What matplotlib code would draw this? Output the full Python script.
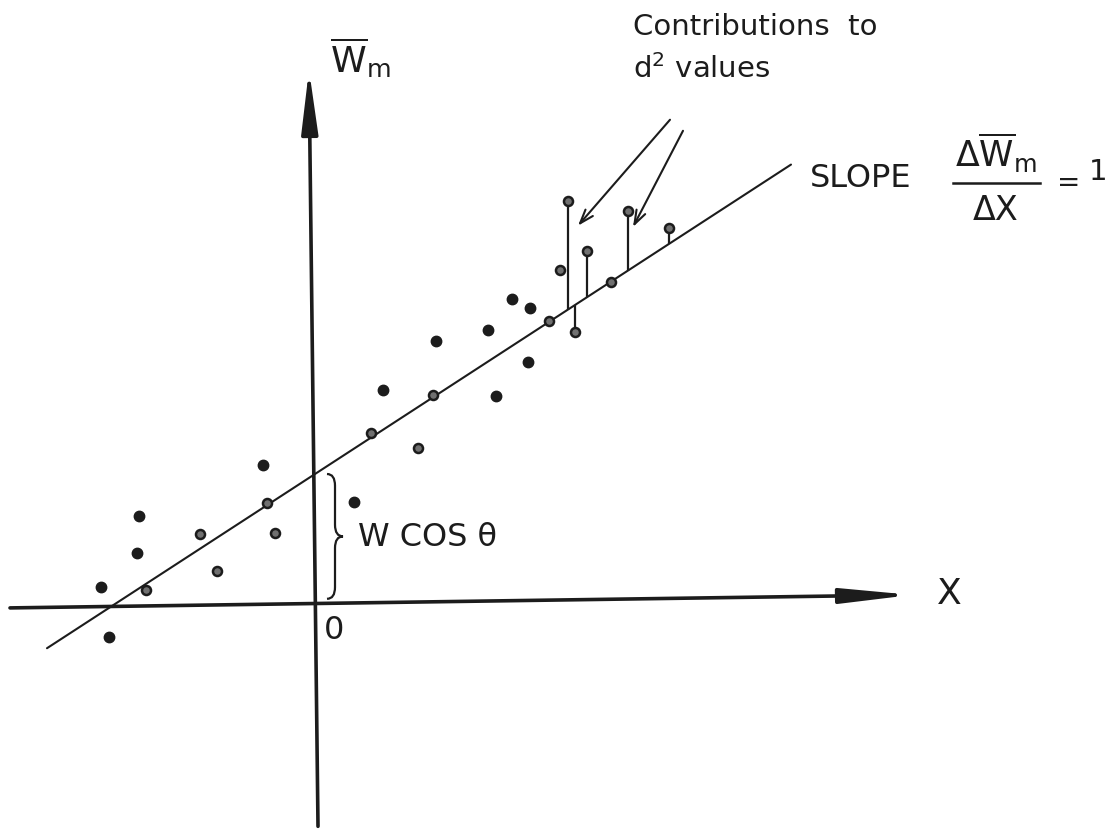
import numpy as np
import matplotlib
matplotlib.use("Agg")
import matplotlib.pyplot as plt
from matplotlib.path import Path
from matplotlib.patches import PathPatch

# fitted line  W_m = X + W cos(theta)
slope = 1.0
intercept = 2.0
fit_x = [-2.68, 4.76]

# observations drawn as solid dots
solid_x = [-0.52, 0.39, -1.76, -1.78, -2.14, -2.06, 1.97, 2.15, 1.73, 1.21, 2.13, 0.68, 1.81]
solid_y = [2.14, 1.57, 1.35, 0.78, 0.26, -0.51, 4.69, 4.55, 4.22, 4.05, 3.72, 3.29, 3.20]

# observations drawn as small rings
ring_x = [-0.48, -1.15, -0.40, -0.98, -1.69, 2.34, 1.18, 0.56, 1.03, 2.96, 2.45]
ring_y = [1.55, 1.08, 1.09, 0.51, 0.22, 4.35, 3.22, 2.63, 2.40, 4.95, 5.14]

# rings whose deviation from the line is drawn
dev_x = [2.53, 2.60, 2.72, 3.13, 3.54]
dev_y = [6.20, 4.18, 5.43, 6.05, 5.78]

# hand drawn axes (slightly skewed)
xaxis_x = [-3.05, 5.97]
xaxis_y = [-0.06, 0.14]
yaxis_x = [0.03, -0.06]
yaxis_y = [-3.42, 8.22]

ink = "#1c1c1c"
plt.rcParams["font.family"] = ["DejaVu Sans"]
plt.rcParams["mathtext.fontset"] = "dejavusans"

fig = plt.figure(figsize=(11.12, 8.31), dpi=100)
ax = fig.add_axes([0, 0, 1, 1])
ax.set_xlim(-3.15, 7.97)
ax.set_ylim(-3.492, 9.292)
ax.axis("off")

# axes with long narrow heads
ax.annotate("", xy=(xaxis_x[1], xaxis_y[1]), xytext=(xaxis_x[0], xaxis_y[0]),
            arrowprops=dict(arrowstyle="-|>,head_length=42,head_width=4.5", mutation_scale=1,
                            lw=2.6, color=ink, shrinkA=0, shrinkB=0))
ax.annotate("", xy=(yaxis_x[1], yaxis_y[1]), xytext=(yaxis_x[0], yaxis_y[0]),
            arrowprops=dict(arrowstyle="-|>,head_length=38,head_width=5.0", mutation_scale=1,
                            lw=2.6, color=ink, shrinkA=0, shrinkB=0))

# regression line
fx = np.array(fit_x)
ax.plot(fx, slope * fx + intercept, color=ink, lw=1.5, solid_capstyle="round")

# deviations d from the line
dx = np.array(dev_x)
line_at = slope * dx + intercept
ax.vlines(dx, line_at, dev_y, color=ink, lw=1.6)

ax.plot(solid_x, solid_y, "o", color=ink, ms=7.5, mec=ink)
ax.plot(ring_x + dev_x, ring_y + dev_y, "o", mfc="#707070", mec=ink, mew=1.8, ms=6.5)

# brace marking the intercept W cos(theta)
bx0, bw = 0.12, 0.16
yb, yt = 0.08, intercept
ym = (yb + yt) / 2
r = 0.18
verts = [(bx0, yt), (bx0 + bw / 2, yt), (bx0 + bw / 2, yt - r),
         (bx0 + bw / 2, ym + r),
         (bx0 + bw / 2, ym), (bx0 + bw, ym),
         (bx0 + bw / 2, ym), (bx0 + bw / 2, ym - r),
         (bx0 + bw / 2, yb + r),
         (bx0 + bw / 2, yb), (bx0, yb)]
codes = [Path.MOVETO, Path.CURVE3, Path.CURVE3, Path.LINETO,
         Path.CURVE3, Path.CURVE3, Path.CURVE3, Path.CURVE3,
         Path.LINETO, Path.CURVE3, Path.CURVE3]
ax.add_patch(PathPatch(Path(verts, codes), fill=False, lw=1.6, ec=ink))

# labels
ax.text(0.15, 8.18, r"$\overline{\mathrm{W}}_{\mathrm{m}}$", fontsize=26, color=ink,
        ha="left", va="baseline")
ax.text(6.34, 0.15, "X", fontsize=26, color=ink, ha="center", va="center")
ax.text(0.19, -0.40, "0", fontsize=23, color=ink, ha="center", va="center")
ax.text(0.43, 1.03, "W COS θ", fontsize=23, color=ink, ha="left", va="center")

ax.text(3.18, 8.75, "Contributions  to", fontsize=21, color=ink, ha="left", va="baseline")
ax.text(3.18, 8.09, r"d$^{2}$ values", fontsize=21, color=ink, ha="left", va="baseline")
ax.annotate("", xy=(2.63, 5.82), xytext=(3.55, 7.45),
            arrowprops=dict(arrowstyle="->,head_length=10,head_width=3.5", mutation_scale=1,
                            lw=1.5, color=ink, shrinkA=0, shrinkB=0))
ax.annotate("", xy=(3.18, 5.80), xytext=(3.68, 7.28),
            arrowprops=dict(arrowstyle="->,head_length=10,head_width=3.5", mutation_scale=1,
                            lw=1.5, color=ink, shrinkA=0, shrinkB=0))

# slope note: SLOPE  dW_m / dX = 1
ax.text(4.95, 6.42, "SLOPE", fontsize=23, color=ink, ha="left", va="baseline")
ax.text(6.81, 6.72, r"$\Delta\overline{\mathrm{W}}_{\mathrm{m}}$", fontsize=25, color=ink,
        ha="center", va="baseline")
ax.plot([6.38, 7.25], [6.48, 6.48], color=ink, lw=1.8)
ax.text(6.81, 6.30, "ΔX", fontsize=24, color=ink, ha="center", va="top")
ax.text(7.54, 6.47, "=", fontsize=20, color=ink, ha="center", va="center")
ax.text(7.83, 6.64, "1", fontsize=21, color=ink, ha="center", va="center")

fig.savefig("out.png", dpi=100, facecolor="white")
